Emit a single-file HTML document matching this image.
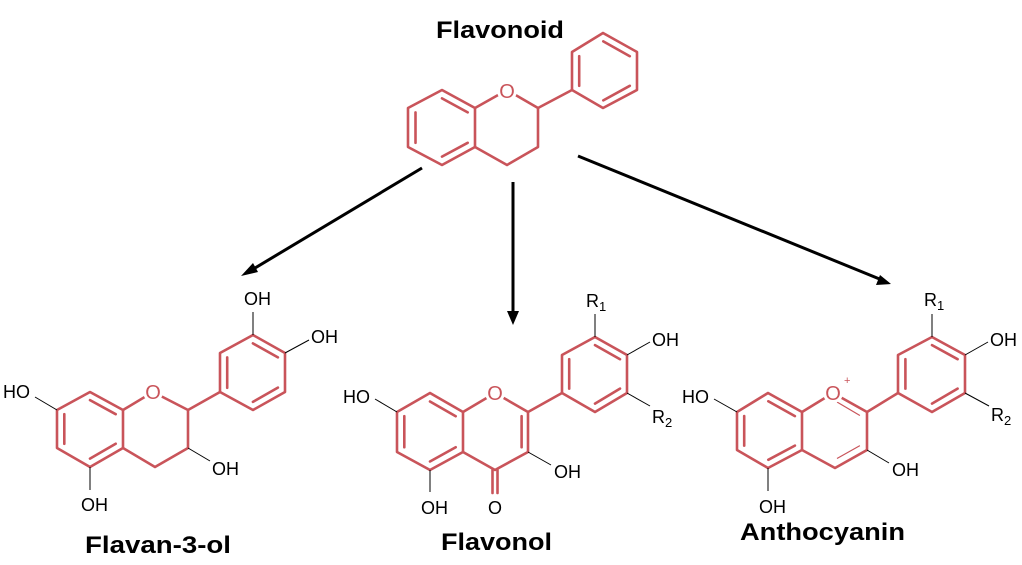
<!DOCTYPE html>
<html><head><meta charset="utf-8"><style>
html,body{margin:0;padding:0;background:#fff;}
svg{display:block;}
.r{stroke:#c9545a;stroke-width:2.6;fill:none;stroke-linecap:round;stroke-linejoin:round;}
.t{stroke:#c9545a;stroke-width:1.2;fill:none;}
.k{stroke:#000;stroke-width:1;fill:none;}
.a{stroke:#000;stroke-width:3;fill:none;}
text{font-family:"Liberation Sans",sans-serif;}
.lb{font-size:18px;fill:#000;}
.ti{font-size:24px;font-weight:bold;fill:#000;}
.o{font-size:20px;fill:#c9545a;}
</style></head><body>
<svg width="1022" height="565" viewBox="0 0 1022 565" xmlns="http://www.w3.org/2000/svg">
<rect width="1022" height="565" fill="#fff"/>
<text class="ti" x="500" y="38" text-anchor="middle" textLength="128" lengthAdjust="spacingAndGlyphs">Flavonoid</text>
<text class="ti" x="85" y="553" textLength="146" lengthAdjust="spacingAndGlyphs">Flavan-3-ol</text>
<text class="ti" x="441" y="550" textLength="111" lengthAdjust="spacingAndGlyphs">Flavonol</text>
<text class="ti" x="740" y="540" textLength="165" lengthAdjust="spacingAndGlyphs">Anthocyanin</text>

<line class="a" x1="422" y1="168" x2="250" y2="271"/>
<polygon points="241,276 253,263 258,272" fill="#000"/>
<line class="a" x1="513" y1="182" x2="513" y2="315"/>
<polygon points="513,325 507,311 519,311" fill="#000"/>
<line class="a" x1="578" y1="156" x2="882" y2="280"/>
<polygon points="891,284 876,285 880,275" fill="#000"/>

<polygon class="r" points="442,90 475,108 475,147 442,165 408,147 408,108"/>
<line class="r" x1="415.5" y1="112.4" x2="415.5" y2="142.8"/>
<line class="r" x1="442" y1="98.4" x2="467.7" y2="112.4"/>
<line class="r" x1="442" y1="156.6" x2="467.7" y2="142.8"/>
<polyline class="r" points="475,108 507,90 538,108 538,147 507,165 475,147"/>
<line class="r" x1="538" y1="108" x2="572" y2="90"/>
<polygon class="r" points="572,52 603,33 637,52 637,90 603,108 572,90"/>
<line class="r" x1="579.2" y1="56.2" x2="579.2" y2="85.8"/>
<line class="r" x1="603.3" y1="41.4" x2="629.8" y2="56.2"/>
<line class="r" x1="629.8" y1="85.8" x2="603.3" y2="100.4"/>
<circle cx="507" cy="91" r="10" fill="#fff"/>
<text class="o" x="507" y="98" text-anchor="middle">O</text>

<polygon class="r" points="90,392 123,410 123,448 90,467 57,448 57,410"/>
<line class="r" x1="64.3" y1="414.2" x2="64.3" y2="443.8"/>
<line class="r" x1="90" y1="400.1" x2="115.7" y2="414.2"/>
<line class="r" x1="90" y1="458.6" x2="115.7" y2="443.8"/>
<polyline class="r" points="123,410 153,392 188,410 188,448 155,467 123,448"/>
<line class="r" x1="188" y1="410" x2="220" y2="392"/>
<polygon class="r" points="220,353 253,335 285,353 285,392 253,410 220,392"/>
<line class="r" x1="227.2" y1="357.4" x2="227.2" y2="387.8"/>
<line class="r" x1="252.9" y1="343.4" x2="277.9" y2="357.4"/>
<line class="r" x1="277.9" y1="387.6" x2="252.9" y2="401.9"/>
<circle cx="153" cy="392" r="10" fill="#fff"/>
<text class="o" x="153" y="399" text-anchor="middle">O</text>
<line class="k" x1="57" y1="410" x2="35" y2="397"/>
<text class="lb" x="3" y="398">HO</text>
<line class="k" x1="90" y1="467" x2="90" y2="490"/>
<text class="lb" x="81" y="511">OH</text>
<line class="k" x1="188" y1="448" x2="210" y2="461"/>
<text class="lb" x="212" y="475">OH</text>
<line class="k" x1="253" y1="335" x2="253" y2="312"/>
<text class="lb" x="244" y="305">OH</text>
<line class="k" x1="285" y1="353" x2="309" y2="340"/>
<text class="lb" x="311" y="343">OH</text>

<polygon class="r" points="430,393 463,412 463,452 430,470 397,452 397,412"/>
<line class="r" x1="404.3" y1="416.2" x2="404.3" y2="447.2"/>
<line class="r" x1="430" y1="401.5" x2="455.7" y2="416.2"/>
<line class="r" x1="430" y1="461.5" x2="455.7" y2="447.2"/>
<polyline class="r" points="463,412 495,393 528,412 528,452 495,470 463,452"/>
<line class="r" x1="521.6" y1="416.2" x2="521.6" y2="447.2"/>
<line class="r" x1="492.5" y1="470" x2="492.5" y2="493"/>
<line class="r" x1="497.5" y1="470" x2="497.5" y2="493"/>
<line class="r" x1="528" y1="412" x2="562" y2="393"/>
<polygon class="r" points="562,355 595,337 627,355 627,393 595,412 562,393"/>
<line class="r" x1="569.2" y1="359.2" x2="569.2" y2="388.6"/>
<line class="r" x1="595" y1="345.1" x2="620" y2="359.2"/>
<line class="r" x1="620" y1="388.6" x2="595" y2="403.6"/>
<circle cx="495" cy="393" r="10" fill="#fff"/>
<text class="o" x="495" y="400" text-anchor="middle">O</text>
<text class="lb" x="495" y="514" text-anchor="middle">O</text>
<line class="k" x1="397" y1="412" x2="375" y2="399"/>
<text class="lb" x="343" y="403">HO</text>
<line class="k" x1="430" y1="470" x2="430" y2="492"/>
<text class="lb" x="421" y="514">OH</text>
<line class="k" x1="528" y1="452" x2="551" y2="465"/>
<text class="lb" x="554" y="478">OH</text>
<line class="k" x1="595" y1="337" x2="595" y2="314"/>
<text class="lb" x="586" y="307">R<tspan font-size="13" dy="4">1</tspan></text>
<line class="k" x1="627" y1="355" x2="650" y2="342"/>
<text class="lb" x="652" y="346">OH</text>
<line class="k" x1="627" y1="393" x2="650" y2="406"/>
<text class="lb" x="652" y="423">R<tspan font-size="13" dy="4">2</tspan></text>

<polygon class="r" points="768,393 802,412 802,450 768,468 737,450 737,412"/>
<line class="r" x1="744.2" y1="416.1" x2="744.2" y2="445.6"/>
<line class="r" x1="768.3" y1="401.3" x2="794.9" y2="416.1"/>
<line class="r" x1="768.3" y1="459.8" x2="794.9" y2="445.6"/>
<polyline class="r" points="802,412 833,393 867,412 867,450 835,468 802,450"/>
<line class="t" x1="837" y1="402" x2="859.9" y2="415.5"/>
<line class="t" x1="859.9" y1="445.6" x2="837" y2="458.5"/>
<line class="r" x1="867" y1="412" x2="898" y2="393"/>
<polygon class="r" points="898,355 932,337 965,355 965,393 932,412 898,393"/>
<line class="r" x1="905.4" y1="359.2" x2="905.4" y2="388.6"/>
<line class="r" x1="932" y1="345.1" x2="957.6" y2="359.2"/>
<line class="r" x1="957.6" y1="388.6" x2="932" y2="403.6"/>
<circle cx="833" cy="393" r="10" fill="#fff"/>
<text class="o" x="833" y="400" text-anchor="middle">O</text>
<text x="844" y="384" font-size="11" fill="#c9545a">+</text>
<line class="k" x1="737" y1="412" x2="714" y2="399"/>
<text class="lb" x="682" y="403">HO</text>
<line class="k" x1="768" y1="468" x2="768" y2="491"/>
<text class="lb" x="759" y="513">OH</text>
<line class="k" x1="867" y1="450" x2="889" y2="463"/>
<text class="lb" x="892" y="476">OH</text>
<line class="k" x1="932" y1="337" x2="932" y2="314"/>
<text class="lb" x="924" y="306">R<tspan font-size="13" dy="4">1</tspan></text>
<line class="k" x1="965" y1="355" x2="988" y2="342"/>
<text class="lb" x="990" y="346">OH</text>
<line class="k" x1="965" y1="393" x2="989" y2="406"/>
<text class="lb" x="991" y="421">R<tspan font-size="13" dy="4">2</tspan></text>
</svg>
</body></html>
